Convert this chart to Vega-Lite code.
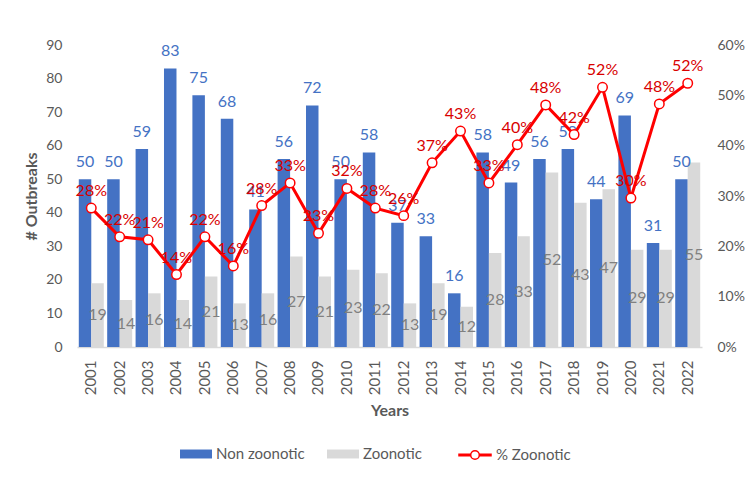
{
  "$schema": "https://vega.github.io/schema/vega-lite/v6.json",
  "autosize": {"type": "none"},
  "padding": {"left": 77, "top": 45, "right": 51, "bottom": 134},
  "width": 625,
  "height": 302,
  "background": "white",
  "config": {
    "font": "Lato",
    "view": {"stroke": null},
    "axis": {"labelColor": "#595959", "titleColor": "#595959", "grid": false, "ticks": false, "domain": false, "labelFont": "Lato", "titleFont": "Lato", "labelOverlap": false},
    "legend": {"labelFont": "Lato", "labelFontSize": 15, "labelColor": "#595959", "labelOffset": 4, "columnPadding": 22, "symbolSize": 1024, "direction": "horizontal", "orient": "none", "title": null}
  },
  "datasets": {
    "bars": [
      {"year": "2001", "type": "Non zoonotic", "value": 50}, {"year": "2001", "type": "Zoonotic", "value": 19},
      {"year": "2002", "type": "Non zoonotic", "value": 50}, {"year": "2002", "type": "Zoonotic", "value": 14},
      {"year": "2003", "type": "Non zoonotic", "value": 59}, {"year": "2003", "type": "Zoonotic", "value": 16},
      {"year": "2004", "type": "Non zoonotic", "value": 83}, {"year": "2004", "type": "Zoonotic", "value": 14},
      {"year": "2005", "type": "Non zoonotic", "value": 75}, {"year": "2005", "type": "Zoonotic", "value": 21},
      {"year": "2006", "type": "Non zoonotic", "value": 68}, {"year": "2006", "type": "Zoonotic", "value": 13},
      {"year": "2007", "type": "Non zoonotic", "value": 41}, {"year": "2007", "type": "Zoonotic", "value": 16},
      {"year": "2008", "type": "Non zoonotic", "value": 56}, {"year": "2008", "type": "Zoonotic", "value": 27},
      {"year": "2009", "type": "Non zoonotic", "value": 72}, {"year": "2009", "type": "Zoonotic", "value": 21},
      {"year": "2010", "type": "Non zoonotic", "value": 50}, {"year": "2010", "type": "Zoonotic", "value": 23},
      {"year": "2011", "type": "Non zoonotic", "value": 58}, {"year": "2011", "type": "Zoonotic", "value": 22},
      {"year": "2012", "type": "Non zoonotic", "value": 37}, {"year": "2012", "type": "Zoonotic", "value": 13},
      {"year": "2013", "type": "Non zoonotic", "value": 33}, {"year": "2013", "type": "Zoonotic", "value": 19},
      {"year": "2014", "type": "Non zoonotic", "value": 16}, {"year": "2014", "type": "Zoonotic", "value": 12},
      {"year": "2015", "type": "Non zoonotic", "value": 58}, {"year": "2015", "type": "Zoonotic", "value": 28},
      {"year": "2016", "type": "Non zoonotic", "value": 49}, {"year": "2016", "type": "Zoonotic", "value": 33},
      {"year": "2017", "type": "Non zoonotic", "value": 56}, {"year": "2017", "type": "Zoonotic", "value": 52},
      {"year": "2018", "type": "Non zoonotic", "value": 59}, {"year": "2018", "type": "Zoonotic", "value": 43},
      {"year": "2019", "type": "Non zoonotic", "value": 44}, {"year": "2019", "type": "Zoonotic", "value": 47},
      {"year": "2020", "type": "Non zoonotic", "value": 69}, {"year": "2020", "type": "Zoonotic", "value": 29},
      {"year": "2021", "type": "Non zoonotic", "value": 31}, {"year": "2021", "type": "Zoonotic", "value": 29},
      {"year": "2022", "type": "Non zoonotic", "value": 50}, {"year": "2022", "type": "Zoonotic", "value": 55}
    ],
    "pct": [
      {"year": "2001", "pct": 0.276}, {"year": "2002", "pct": 0.219}, {"year": "2003", "pct": 0.213},
      {"year": "2004", "pct": 0.144}, {"year": "2005", "pct": 0.219}, {"year": "2006", "pct": 0.161},
      {"year": "2007", "pct": 0.281}, {"year": "2008", "pct": 0.326}, {"year": "2009", "pct": 0.226},
      {"year": "2010", "pct": 0.315}, {"year": "2011", "pct": 0.276}, {"year": "2012", "pct": 0.261},
      {"year": "2013", "pct": 0.366}, {"year": "2014", "pct": 0.429}, {"year": "2015", "pct": 0.326},
      {"year": "2016", "pct": 0.402}, {"year": "2017", "pct": 0.481}, {"year": "2018", "pct": 0.422},
      {"year": "2019", "pct": 0.516}, {"year": "2020", "pct": 0.296}, {"year": "2021", "pct": 0.483},
      {"year": "2022", "pct": 0.524}
    ]
  },
  "layer": [
    {
      "data": {"name": "bars"},
      "encoding": {
        "x": {"field": "year", "type": "ordinal", "scale": {"paddingInner": 0.12, "paddingOuter": 0.063},
          "axis": {"labelAngle": -90, "title": "Years", "titleFontWeight": "bold", "titleFontSize": 16, "labelFontSize": 15, "labelPadding": 13, "domain": true, "domainColor": "#D9D9D9", "domainWidth": 1.5, "titlePadding": 8}},
        "xOffset": {"field": "type", "type": "nominal", "scale": {"domain": ["Non zoonotic", "Zoonotic"], "paddingInner": 0, "paddingOuter": 0}}
      },
      "layer": [
        {
          "mark": {"type": "bar"},
          "encoding": {
            "y": {"field": "value", "type": "quantitative", "stack": null, "scale": {"domain": [0, 90], "nice": false},
              "axis": {"title": "# Outbreaks", "titleFontSize": 16, "titleFontWeight": "bold", "labelFontSize": 14, "labelPadding": 15, "titlePadding": 6, "values": [0, 10, 20, 30, 40, 50, 60, 70, 80, 90]}},
            "color": {"field": "type", "type": "nominal",
              "scale": {"domain": ["Non zoonotic", "Zoonotic"], "range": ["#4472C4", "#D9D9D9"]},
              "legend": {"legendX": 103, "legendY": 393, "symbolType": "M-1,-0.28H1V0.28H-1Z", "symbolStrokeWidth": 0}}
          }
        },
        {
          "transform": [{"filter": "datum.type === 'Non zoonotic'"}],
          "mark": {"type": "text", "dy": -12, "baseline": "alphabetic", "fontSize": 16, "color": "#4472C4"},
          "encoding": {
            "y": {"field": "value", "type": "quantitative", "stack": null,
              "axis": {"title": "# Outbreaks", "titleFontSize": 16, "titleFontWeight": "bold", "labelFontSize": 14, "labelPadding": 15, "titlePadding": 6, "values": [0, 10, 20, 30, 40, 50, 60, 70, 80, 90]}},
            "text": {"field": "value", "type": "quantitative"}
          }
        },
        {
          "transform": [{"filter": "datum.type === 'Zoonotic'"}],
          "mark": {"type": "text", "baseline": "middle", "fontSize": 16, "color": "#808080"},
          "encoding": {
            "y": {"field": "value", "type": "quantitative", "stack": "zero", "bandPosition": 0.5,
              "axis": {"title": "# Outbreaks", "titleFontSize": 16, "titleFontWeight": "bold", "labelFontSize": 14, "labelPadding": 15, "titlePadding": 6, "values": [0, 10, 20, 30, 40, 50, 60, 70, 80, 90]}},
            "text": {"field": "value", "type": "quantitative"}
          }
        }
      ]
    },
    {
      "data": {"name": "pct"},
      "encoding": {
        "x": {"field": "year", "type": "ordinal"},
        "y": {"field": "pct", "type": "quantitative", "scale": {"domain": [0, 0.6], "nice": false},
          "axis": {"orient": "right", "title": null, "format": ".0%", "labelFontSize": 14, "labelPadding": 15, "values": [0, 0.1, 0.2, 0.3, 0.4, 0.5, 0.6]}}
      },
      "layer": [
        {"mark": {"type": "line", "strokeWidth": 3},
          "encoding": {"color": {"datum": "% Zoonotic", "type": "nominal", "scale": {"domain": ["% Zoonotic"], "range": ["#FF0000"]},
            "legend": {"legendX": 381, "legendY": 393, "symbolType": "M-1,-0.05H-0.27V0.05H-1Z M0.27,0A0.27,0.27 0 1 1 -0.27,0A0.27,0.27 0 1 1 0.27,0Z M0.27,-0.05H1V0.05H0.27Z", "symbolFillColor": "#FFFFFF", "symbolStrokeColor": "#FF0000", "symbolStrokeWidth": 1.5}}}},
        {"mark": {"type": "point", "filled": true, "fill": "white", "stroke": "#FF0000", "strokeWidth": 1.5, "size": 90, "opacity": 1}},
        {"mark": {"type": "text", "color": "#D80000", "fontSize": 16, "dy": -12, "baseline": "alphabetic"},
          "encoding": {"text": {"field": "pct", "type": "quantitative", "format": ".0%"}}}
      ]
    }
  ],
  "resolve": {"scale": {"y": "independent", "color": "independent"}}
}
